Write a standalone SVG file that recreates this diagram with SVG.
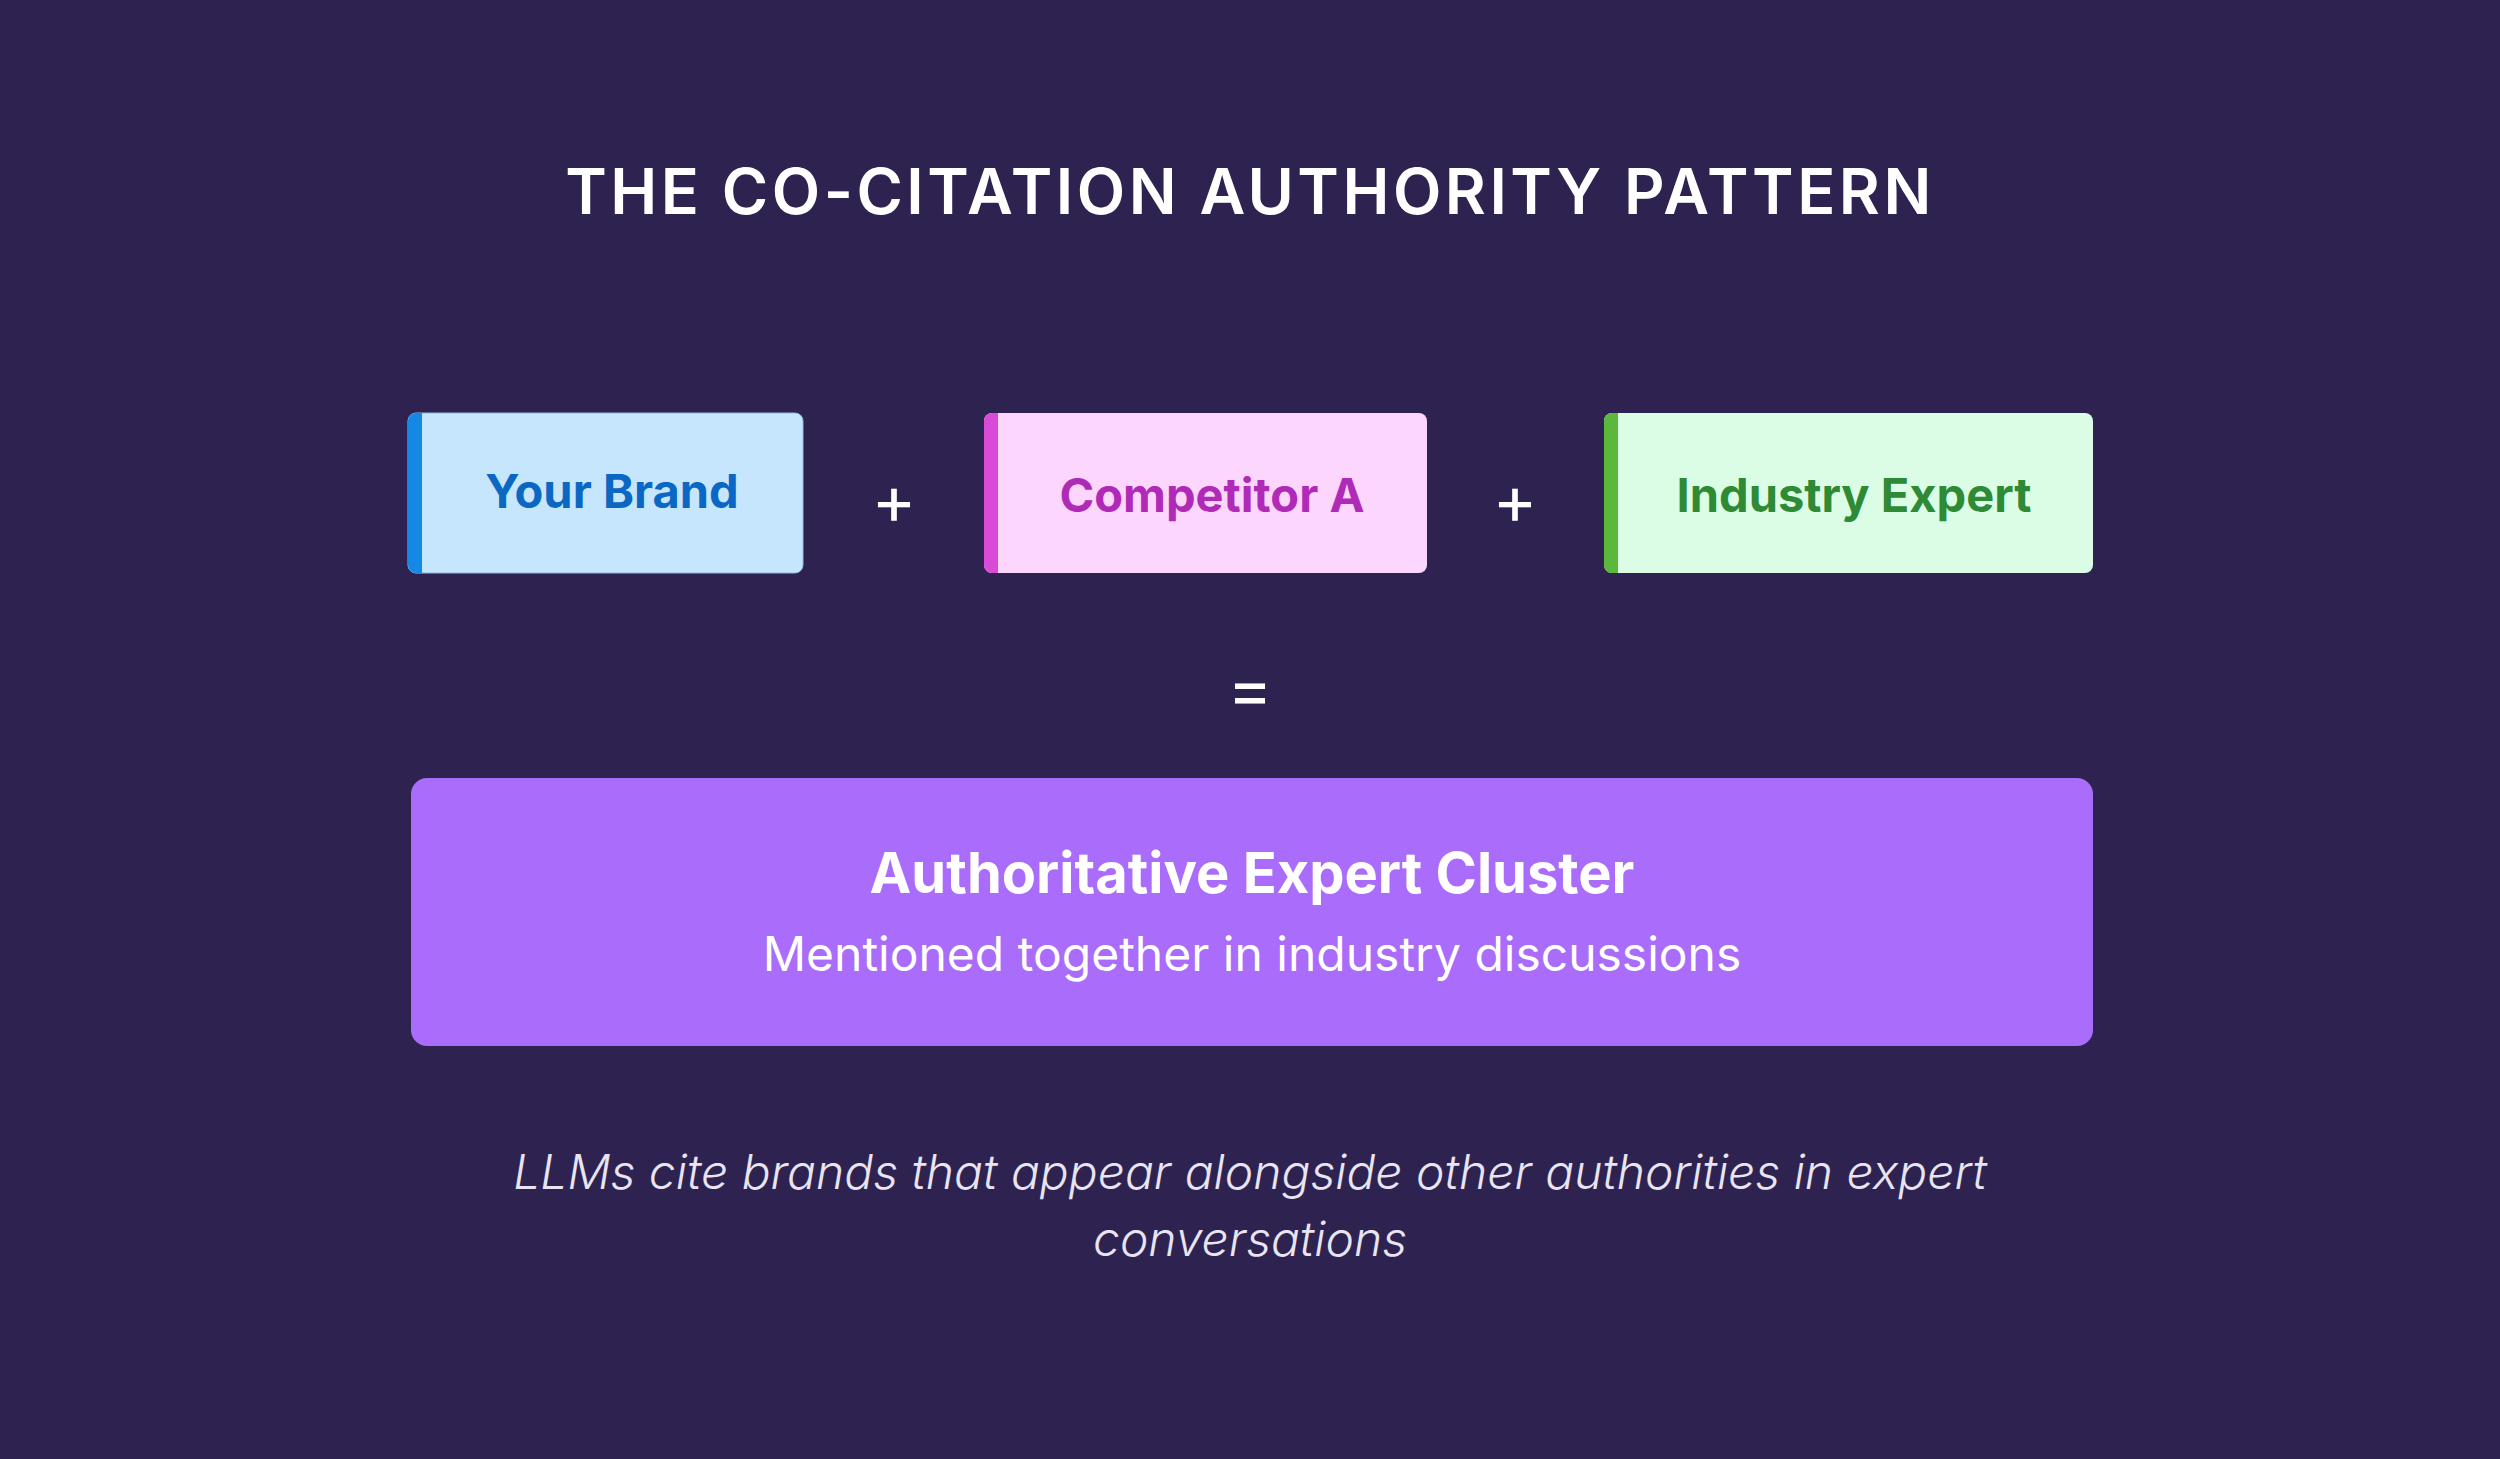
<svg xmlns="http://www.w3.org/2000/svg" width="2500" height="1459" viewBox="0 0 2500 1459">
<style>
text{font-family:Inter,"Noto Sans",sans-serif;text-anchor:middle}
.lbl{font-size:47px;font-weight:700}
.op{font-size:68px;fill:#fff;font-weight:400}
</style>
<rect width="2500" height="1459" fill="#2e2250"/>
<text x="1250" y="214" font-size="63" font-weight="600" fill="#fff" letter-spacing="3.5">THE CO-CITATION AUTHORITY PATTERN</text>
<g id="your-brand">
<rect x="408" y="413" width="395" height="160" rx="8" fill="#c6e6fd" stroke="#8fb8e0" stroke-width="1"/>
<path d="M416 413h6v160h-6a8 8 0 0 1-8-8v-144a8 8 0 0 1 8-8z" fill="#1588e6"/>
<text class="lbl" x="612" y="508" fill="#0a68c4">Your Brand</text>
</g>
<g id="competitor-a">
<rect x="984" y="413" width="443" height="160" rx="8" fill="#fdd6fd"/>
<path d="M992 413h6v160h-6a8 8 0 0 1-8-8v-144a8 8 0 0 1 8-8z" fill="#d94ad9"/>
<text class="lbl" x="1212" y="512" fill="#b02ab8">Competitor A</text>
</g>
<g id="industry-expert">
<rect x="1604" y="413" width="489" height="160" rx="8" fill="#dbfde6"/>
<path d="M1612 413h6v160h-6a8 8 0 0 1-8-8v-144a8 8 0 0 1 8-8z" fill="#5cb83a"/>
<text class="lbl" x="1854" y="512" fill="#2e8a34">Industry Expert</text>
</g>
<g id="operators">
<text class="op" x="894" y="524">+</text>
<text class="op" x="1515" y="524">+</text>
<text class="op" x="1250" y="713">=</text>
</g>
<g id="cluster">
<rect x="411" y="778" width="1682" height="268" rx="16" fill="#aa6cfa"/>
<text x="1252" y="893" font-size="56" font-weight="700" fill="#fff">Authoritative Expert Cluster</text>
<text x="1252" y="971" font-size="48" fill="#fff">Mentioned together in industry discussions</text>
</g>
<g id="footer">
<text x="1250" y="1189" font-size="48" font-style="italic" font-weight="300" fill="#e8e4f2">LLMs cite brands that appear alongside other authorities in expert</text>
<text x="1250" y="1256" font-size="48" font-style="italic" font-weight="300" fill="#e8e4f2">conversations</text>
</g>
<g id="connectors"/>
</svg>
